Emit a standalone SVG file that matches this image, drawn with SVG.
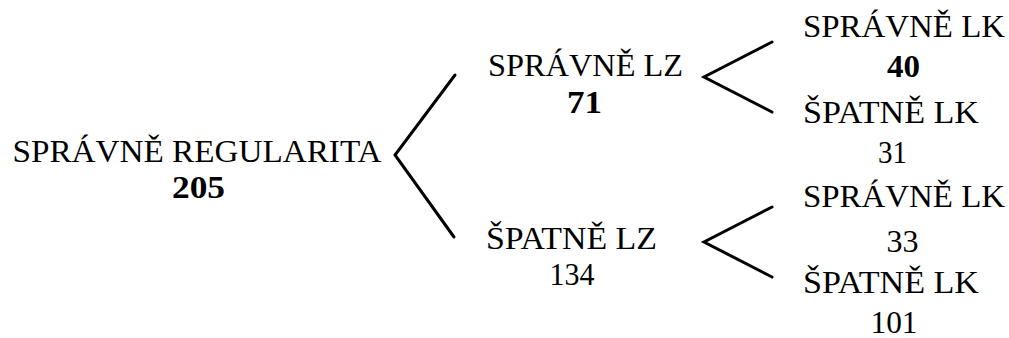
<svg xmlns="http://www.w3.org/2000/svg" width="1009" height="338" viewBox="0 0 1009 338">
  <style>
    text { font-family: "Liberation Serif", "DejaVu Serif", "Noto Serif", serif; font-size: 32px; fill: #000; text-anchor: middle; }
    .num-b { font-weight: bold; }
    .branch { fill: none; stroke: #000; stroke-width: 3; stroke-linecap: round; stroke-linejoin: miter; }
  </style>
  <rect width="1009" height="338" fill="#fff"/>

  <!-- branching connectors -->
  <g id="connectors">
    <polyline class="branch" points="455,75 395,155 454,237"/>
    <polyline class="branch" points="772,42 704,77 772,112"/>
    <polyline class="branch" points="772,207 704,242 772,277"/>
  </g>

  <g id="root">
    <text x="197" y="162" textLength="369" lengthAdjust="spacingAndGlyphs">SPRÁVNĚ REGULARITA</text>
    <text class="num-b" x="198.5" y="198" textLength="53" lengthAdjust="spacingAndGlyphs">205</text>
  </g>

  <g id="lz-ok">
    <text x="585.5" y="76" textLength="195" lengthAdjust="spacingAndGlyphs">SPRÁVNĚ LZ</text>
    <text class="num-b" x="584.5" y="113" textLength="35" lengthAdjust="spacingAndGlyphs">71</text>
  </g>

  <g id="lz-bad">
    <text x="571.5" y="249" textLength="171" lengthAdjust="spacingAndGlyphs">ŠPATNĚ LZ</text>
    <text x="572" y="285" textLength="45" lengthAdjust="spacingAndGlyphs">134</text>
  </g>

  <g id="lk-ok-1">
    <text x="904" y="37" textLength="202" lengthAdjust="spacingAndGlyphs">SPRÁVNĚ LK</text>
    <text class="num-b" x="903.5" y="77" textLength="33" lengthAdjust="spacingAndGlyphs">40</text>
  </g>

  <g id="lk-bad-1">
    <text x="891" y="123" textLength="176" lengthAdjust="spacingAndGlyphs">ŠPATNĚ LK</text>
    <text x="892.5" y="163" textLength="29" lengthAdjust="spacingAndGlyphs">31</text>
  </g>

  <g id="lk-ok-2">
    <text x="904" y="207" textLength="202" lengthAdjust="spacingAndGlyphs">SPRÁVNĚ LK</text>
    <text x="902.5" y="252" textLength="32" lengthAdjust="spacingAndGlyphs">33</text>
  </g>

  <g id="lk-bad-2">
    <text x="891" y="293" textLength="176" lengthAdjust="spacingAndGlyphs">ŠPATNĚ LK</text>
    <text x="894" y="333" textLength="47" lengthAdjust="spacingAndGlyphs">101</text>
  </g>
</svg>
